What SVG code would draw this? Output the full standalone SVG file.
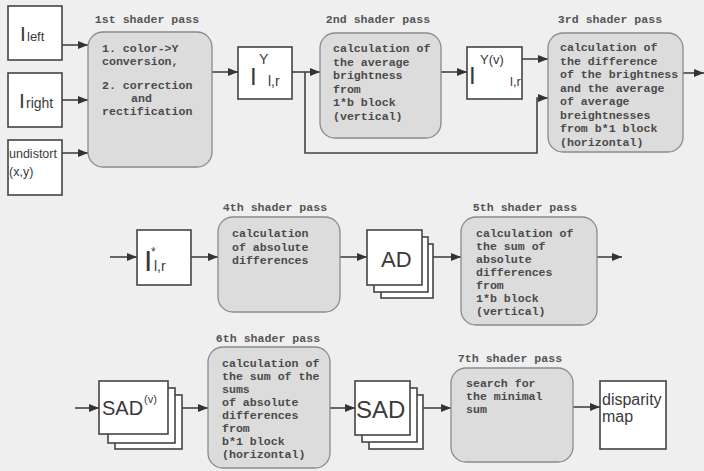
<svg xmlns="http://www.w3.org/2000/svg" width="704" height="471" viewBox="0 0 704 471">
<style>
.bg{fill:#efefef}
.box{fill:#ffffff;stroke:#444;stroke-width:1.6}
.sh{fill:#dcdcdc;stroke:#8a8a8a;stroke-width:1.3}
.mono{font-family:"Liberation Mono","DejaVu Sans Mono",monospace;font-weight:bold;font-size:11.6px;fill:#4a4a4a}
.ttl{font-family:"Liberation Mono","DejaVu Sans Mono",monospace;font-weight:bold;font-size:11.6px;fill:#555;text-anchor:middle}
.sans{font-family:"Liberation Sans",Arial,sans-serif;fill:#3a3a3a}
.con{fill:none;stroke:#444;stroke-width:1.6}
</style>
<defs>
<marker id="ah" markerWidth="10" markerHeight="8" refX="10" refY="4" orient="auto" markerUnits="userSpaceOnUse">
<path d="M0,0 L10,4 L0,8 z" fill="#333"/>
</marker>
</defs>
<rect class="bg" x="0" y="0" width="704" height="471"/>

<g id="connectors">
<path class="con" d="M62,45 H88" marker-end="url(#ah)"/>
<path class="con" d="M62,100 H88" marker-end="url(#ah)"/>
<path class="con" d="M62,153 H88" marker-end="url(#ah)"/>
<path class="con" d="M212,72 H238" marker-end="url(#ah)"/>
<path class="con" d="M292,72 H320" marker-end="url(#ah)"/>
<path class="con" d="M305,72 V153 H537 V98 H548" marker-end="url(#ah)"/>
<path class="con" d="M441,72 H467" marker-end="url(#ah)"/>
<path class="con" d="M522,59 H548" marker-end="url(#ah)"/>
<path class="con" d="M683,73 H704" marker-end="url(#ah)"/>
<path class="con" d="M110,257 H137" marker-end="url(#ah)"/>
<path class="con" d="M191,257 H218" marker-end="url(#ah)"/>
<path class="con" d="M340,257 H367" marker-end="url(#ah)"/>
<path class="con" d="M433,257 H461" marker-end="url(#ah)"/>
<path class="con" d="M597,257 H622" marker-end="url(#ah)"/>
<path class="con" d="M75,408 H99" marker-end="url(#ah)"/>
<path class="con" d="M182,408 H208" marker-end="url(#ah)"/>
<path class="con" d="M330,408 H355" marker-end="url(#ah)"/>
<path class="con" d="M423,408 H451" marker-end="url(#ah)"/>
<path class="con" d="M573,407 H600" marker-end="url(#ah)"/>
</g>

<g id="I_left">
<rect class="box" x="8" y="6" width="54" height="54"/>
<text class="sans" x="20" y="41" font-size="21">I</text>
<text class="sans" x="27" y="41" font-size="13">left</text>
</g>
<g id="I_right">
<rect class="box" x="8" y="73" width="54" height="54"/>
<text class="sans" x="19" y="108" font-size="21">I</text>
<text class="sans" x="26" y="108" font-size="14">right</text>
</g>
<g id="undistort">
<rect class="box" x="8" y="140" width="54" height="55"/>
<text class="sans" x="9" y="158" font-size="12.5">undistort</text>
<text class="sans" x="9" y="176" font-size="12.5">(x,y)</text>
</g>

<g id="pass1">
<text class="ttl" x="147" y="23">1st shader pass</text>
<rect class="sh" x="88" y="32" width="124" height="135" rx="15"/>
<text class="mono" x="102" y="52">1. color-&gt;Y</text>
<text class="mono" x="102" y="65">conversion,</text>
<text class="mono" x="102" y="89">2. correction</text>
<text class="mono" x="131" y="102">and</text>
<text class="mono" x="102" y="115">rectification</text>
</g>

<g id="IY">
<rect class="box" x="238" y="47" width="54" height="52"/>
<text class="sans" x="250" y="85" font-size="24">I</text>
<text class="sans" x="259" y="64" font-size="14">Y</text>
<text class="sans" x="268" y="86" font-size="14">l,r</text>
</g>

<g id="pass2">
<text class="ttl" x="378" y="23">2nd shader pass</text>
<rect class="sh" x="320" y="33" width="121" height="105" rx="15"/>
<text class="mono" x="333" y="52">calculation of</text>
<text class="mono" x="333" y="65.5">the average</text>
<text class="mono" x="333" y="79">brightness</text>
<text class="mono" x="333" y="92.5">from</text>
<text class="mono" x="333" y="106">1*b block</text>
<text class="mono" x="333" y="119.5">(vertical)</text>
</g>

<g id="IYv">
<rect class="box" x="467" y="47" width="55" height="52"/>
<text class="sans" x="469" y="84" font-size="24">I</text>
<text class="sans" x="480" y="64" font-size="13">Y(v)</text>
<text class="sans" x="510" y="86" font-size="13">l,r</text>
</g>

<g id="pass3">
<text class="ttl" x="610" y="23">3rd shader pass</text>
<rect class="sh" x="548" y="33" width="135" height="119" rx="15"/>
<text class="mono" x="560" y="51">calculation of</text>
<text class="mono" x="560" y="64.5">the difference</text>
<text class="mono" x="560" y="78">of the brightness</text>
<text class="mono" x="560" y="91.5">and the average</text>
<text class="mono" x="560" y="105">of average</text>
<text class="mono" x="560" y="118.5">breightnesses</text>
<text class="mono" x="560" y="132">from b*1 block</text>
<text class="mono" x="560" y="145.5">(horizontal)</text>
</g>

<g id="Istar">
<rect class="box" x="137" y="230" width="54" height="55"/>
<text class="sans" x="144" y="271" font-size="30">I</text>
<text class="sans" x="151" y="256" font-size="12">*</text>
<text class="sans" x="154" y="271" font-size="14">l,r</text>
</g>

<g id="pass4">
<text class="ttl" x="275" y="211">4th shader pass</text>
<rect class="sh" x="218" y="217" width="122" height="95" rx="15"/>
<text class="mono" x="232" y="237">calculation</text>
<text class="mono" x="232" y="250.5">of absolute</text>
<text class="mono" x="232" y="264">differences</text>
</g>

<g id="AD">
<rect class="box" x="381" y="244" width="52" height="54"/>
<rect class="box" x="374" y="237" width="54" height="55"/>
<rect class="box" x="367" y="230" width="55" height="55"/>
<text class="sans" x="381" y="267" font-size="22">AD</text>
</g>

<g id="pass5">
<text class="ttl" x="525" y="211">5th shader pass</text>
<rect class="sh" x="461" y="217" width="136" height="108" rx="15"/>
<text class="mono" x="476" y="237">calculation of</text>
<text class="mono" x="476" y="250">the sum of</text>
<text class="mono" x="476" y="263">absolute</text>
<text class="mono" x="476" y="276">differences</text>
<text class="mono" x="476" y="289">from</text>
<text class="mono" x="476" y="302">1*b block</text>
<text class="mono" x="476" y="315">(vertical)</text>
</g>

<g id="SADv">
<rect class="box" x="115" y="395" width="67" height="54"/>
<rect class="box" x="108" y="388" width="67" height="55"/>
<rect class="box" x="99" y="381" width="69" height="53"/>
<text class="sans" x="102" y="415" font-size="20">SAD</text>
<text class="sans" x="144" y="403" font-size="11">(v)</text>
</g>

<g id="pass6">
<text class="ttl" x="268" y="342">6th shader pass</text>
<rect class="sh" x="208" y="347" width="122" height="121" rx="15"/>
<text class="mono" x="222" y="367">calculation of</text>
<text class="mono" x="222" y="380">the sum of the</text>
<text class="mono" x="222" y="393">sums</text>
<text class="mono" x="222" y="406">of absolute</text>
<text class="mono" x="222" y="419">differences</text>
<text class="mono" x="222" y="432">from</text>
<text class="mono" x="222" y="445">b*1 block</text>
<text class="mono" x="222" y="458">(horizontal)</text>
</g>

<g id="SAD">
<rect class="box" x="369" y="395" width="54" height="54"/>
<rect class="box" x="362" y="388" width="55" height="54"/>
<rect class="box" x="355" y="381" width="55" height="54"/>
<text class="sans" x="356" y="418" font-size="24">SAD</text>
</g>

<g id="pass7">
<text class="ttl" x="510" y="362">7th shader pass</text>
<rect class="sh" x="451" y="368" width="122" height="94" rx="15"/>
<text class="mono" x="466" y="387">search for</text>
<text class="mono" x="466" y="400">the minimal</text>
<text class="mono" x="466" y="413">sum</text>
</g>

<g id="disparity">
<rect class="box" x="600" y="381" width="66" height="68"/>
<text class="sans" x="602" y="405" font-size="16">disparity</text>
<text class="sans" x="602" y="422" font-size="16">map</text>
</g>
</svg>
